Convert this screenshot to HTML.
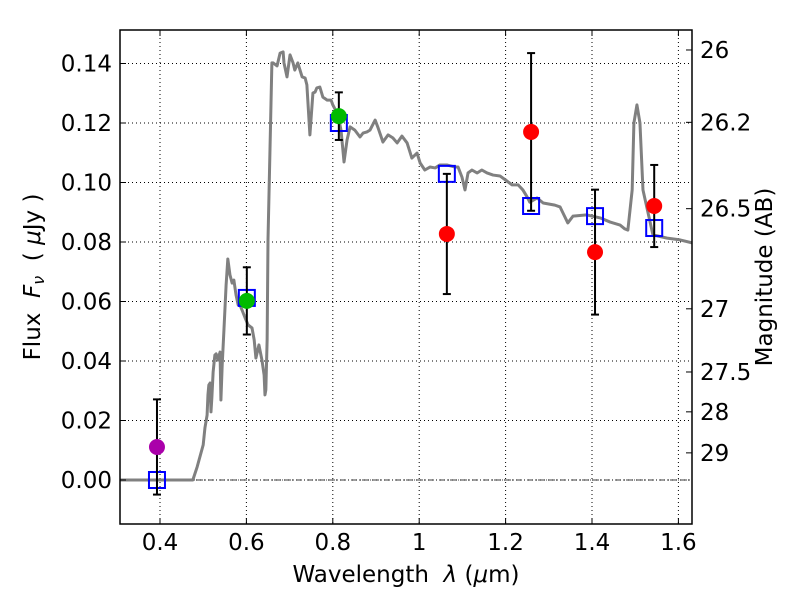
<!DOCTYPE html>
<html><head><meta charset="utf-8"><style>
body{margin:0;background:#fff;}
svg{display:block;font-family:"DejaVu Sans","Liberation Sans",sans-serif;}
.pre{white-space:pre;}
</style></head><body>
<svg id="chart" width="800" height="600" viewBox="0 0 800 600" xmlns="http://www.w3.org/2000/svg">
<rect width="800" height="600" fill="#fff"/>
<g id="grid"></g>
<g id="marks"></g>
<g id="axes"></g>
<text class="pre" x="406" y="582" font-size="23" text-anchor="middle">Wavelength  <tspan font-style="italic">λ</tspan> (<tspan font-style="italic">μ</tspan>m)</text>
<text class="pre" transform="translate(40,277) rotate(-90)" font-size="23" text-anchor="middle">Flux  <tspan font-style="italic">F</tspan><tspan font-style="italic" font-size="16" dy="4">ν</tspan><tspan dy="-4">  ( </tspan><tspan font-style="italic">μ</tspan>Jy )</text>
<text transform="translate(772,277) rotate(-90)" font-size="23" text-anchor="middle">Magnitude (AB)</text>
</svg>
<script>
const sedWave=[0.307,0.476,0.486,0.500,0.504,0.509,0.511,0.513,0.516,0.518,0.520,0.523,0.527,0.530,0.532,0.534,0.539,0.541,0.544,0.548,0.553,0.557,0.562,0.567,0.571,0.576,0.581,0.585,0.590,0.597,0.604,0.613,0.618,0.622,0.629,0.636,0.641,0.643,0.645,0.648,0.650,0.659,0.662,0.671,0.678,0.685,0.687,0.694,0.701,0.708,0.712,0.719,0.729,0.736,0.740,0.747,0.754,0.759,0.763,0.770,0.777,0.787,0.796,0.800,0.812,0.819,0.826,0.833,0.840,0.851,0.863,0.870,0.879,0.886,0.898,0.905,0.916,0.928,0.939,0.949,0.960,0.972,0.983,0.995,1.002,1.013,1.025,1.037,1.048,1.064,1.083,1.090,1.099,1.106,1.113,1.122,1.134,1.145,1.157,1.171,1.187,1.203,1.215,1.229,1.240,1.250,1.256,1.273,1.287,1.314,1.326,1.333,1.344,1.356,1.388,1.419,1.442,1.465,1.476,1.483,1.493,1.497,1.504,1.511,1.518,1.541,1.574,1.604,1.632];
const sedFlux=[0,0,0.0044,0.0118,0.0175,0.0218,0.0286,0.0319,0.0326,0.0229,0.0276,0.0363,0.0420,0.0424,0.0413,0.0403,0.0430,0.0269,0.0387,0.0504,0.0655,0.0743,0.0689,0.0662,0.0672,0.0622,0.0588,0.0588,0.0571,0.0545,0.0521,0.0511,0.0471,0.0410,0.0454,0.0403,0.0353,0.0286,0.0303,0.0471,0.0807,0.1402,0.1402,0.1392,0.1435,0.1439,0.1402,0.1355,0.1429,0.1402,0.1378,0.1402,0.1355,0.1351,0.1328,0.1160,0.1301,0.1304,0.1318,0.1321,0.1287,0.1277,0.1277,0.1261,0.1227,0.1176,0.1069,0.1143,0.1187,0.1176,0.1153,0.1166,0.1170,0.1176,0.1210,0.1183,0.1136,0.1160,0.1150,0.1133,0.1156,0.1133,0.1082,0.1099,0.1066,0.1042,0.1052,0.1049,0.1059,0.1059,0.1052,0.1052,0.1018,0.0975,0.1032,0.1042,0.1032,0.1042,0.1032,0.1025,0.1022,0.1005,0.0992,0.0992,0.0975,0.0951,0.0934,0.0948,0.0931,0.0924,0.0918,0.0897,0.0864,0.0887,0.0891,0.0881,0.0867,0.0857,0.0844,0.0840,0.0975,0.1200,0.1261,0.1200,0.0975,0.0824,0.0813,0.0807,0.0797,0.0787];
const obsWave=[0.393,0.601,0.814,1.064,1.259,1.407,1.544];
const obsFlux=[0.0111,0.0602,0.1223,0.0827,0.1170,0.0766,0.0921];
const obsErr=[0.0160,0.0113,0.0080,0.0202,0.0265,0.0210,0.0138];
const obsColor=["#aa00aa","#00bb00","#00bb00","#ff0000","#ff0000","#ff0000","#ff0000"];
const modelWave=[0.393,0.601,0.814,1.064,1.259,1.407,1.544];
const modelFlux=[0.0,0.0612,0.1200,0.1029,0.0921,0.0887,0.0847];
const xTicks=[0.4,0.6,0.8,1.0,1.2,1.4,1.6];
const xTickLabels=["0.4","0.6","0.8","1","1.2","1.4","1.6"];
const yTicks=[0,0.02,0.04,0.06,0.08,0.10,0.12,0.14];
const yTickLabels=["0.00","0.02","0.04","0.06","0.08","0.10","0.12","0.14"];
const magTicks=[26,26.2,26.5,27,27.5,28,29];
const magTickLabels=["26","26.2","26.5","27","27.5","28","29"];

const L=120,R=692,T=30,B=524;
const X=w=>160+(w-0.4)*432;
const Y=f=>480-f*2975;
const magToFlux=m=>Math.pow(10,(23.9-m)/2.5);
const NS="http://www.w3.org/2000/svg";
function mk(tag,attrs,parent){const e=document.createElementNS(NS,tag);for(const k in attrs)e.setAttribute(k,attrs[k]);parent.appendChild(e);return e;}
const grid=document.getElementById('grid'),marks=document.getElementById('marks'),axes=document.getElementById('axes');

xTicks.forEach((t,i)=>{
  const g=mk('line',{x1:X(t),x2:X(t),y1:T,y2:B,stroke:'#000','stroke-width':1,'stroke-dasharray':'1,3'},grid);
  
  
  mk('line',{x1:X(t),x2:X(t),y1:B,y2:B-6,stroke:'#000','stroke-width':1},axes);
  mk('line',{x1:X(t),x2:X(t),y1:T,y2:T+6,stroke:'#000','stroke-width':1},axes);
  const tx=mk('text',{x:X(t),y:B+26,'font-size':23,'text-anchor':'middle'},axes);
  tx.textContent=xTickLabels[i];
  
  
});
yTicks.forEach((t,i)=>{
  const g=mk('line',{x1:L,x2:R,y1:Y(t),y2:Y(t),stroke:'#000','stroke-width':1,'stroke-dasharray':'1,3'},grid);
  
  
  mk('line',{x1:L,x2:L+6,y1:Y(t),y2:Y(t),stroke:'#000','stroke-width':1},axes);
  const tx=mk('text',{x:L-8,y:Y(t)+8,'font-size':23,'text-anchor':'end'},axes);
  tx.textContent=yTickLabels[i];
  
  
});
magTicks.forEach((m,i)=>{
  const y=Y(magToFlux(m));
  mk('line',{x1:R,x2:R-6,y1:y,y2:y,stroke:'#000','stroke-width':1},axes);
  const tx=mk('text',{x:R+8,y:y+8,'font-size':23,'text-anchor':'start'},axes);
  tx.textContent=magTickLabels[i];
  
  
});
const zl=mk('line',{x1:L,x2:R,y1:Y(0),y2:Y(0),stroke:'#000','stroke-width':0.8,'stroke-dasharray':'6,2,1,2'},grid);



const clip=mk('clipPath',{id:'pc'},marks);mk('rect',{x:L,y:T,width:R-L,height:B-T},clip);
const sedG=mk('g',{'clip-path':'url(#pc)'},marks);
const sed=mk('polyline',{points:sedWave.map((w,i)=>X(w)+','+Y(sedFlux[i])).join(' '),fill:'none',stroke:'#808080','stroke-width':3,'stroke-linejoin':'round'},sedG);



modelWave.forEach((w,i)=>{
  const s=mk('rect',{x:X(w)-8,y:Y(modelFlux[i])-8,width:16,height:16,fill:'none',stroke:'#0000ff','stroke-width':2},marks);
  
  
});
obsWave.forEach((w,i)=>{
  const x=X(w),y1=Y(obsFlux[i]+obsErr[i]),y2=Y(obsFlux[i]-obsErr[i]);
  const eb=mk('g',{stroke:'#000','stroke-width':2},marks);
  
  
  mk('line',{x1:x,x2:x,y1:y1,y2:y2},eb);
  mk('line',{x1:x-4,x2:x+4,y1:y1,y2:y1},eb);
  mk('line',{x1:x-4,x2:x+4,y1:y2,y2:y2},eb);
  const c=mk('circle',{cx:x,cy:Y(obsFlux[i]),r:8,fill:obsColor[i]},marks);
  
  
});
const fr=mk('rect',{x:L,y:T,width:R-L,height:B-T,fill:'none',stroke:'#000','stroke-width':1.5},axes);


</script>
</body></html>
